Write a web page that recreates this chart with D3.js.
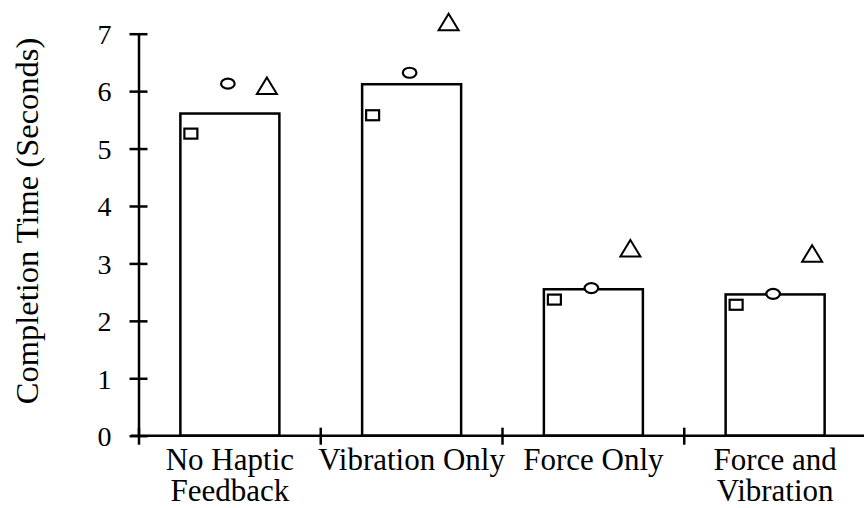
<!DOCTYPE html>
<html>
<head>
<meta charset="utf-8">
<script src="https://cdn.jsdelivr.net/npm/d3@7"></script>
<style>
  body { margin: 0; background: #fff; }
  text { font-family: "Liberation Serif", "Times New Roman", serif; fill: #000; }
</style>
</head>
<body>
<div id="chart"></div>
<script>
// Basic setup
var width = 864,
    height = 508;

// Data
var conditions = ["No Haptic Feedback", "Vibration Only", "Force Only", "Force and Vibration"];
var conditionLines = [["No Haptic", "Feedback"], ["Vibration Only"], ["Force Only"], ["Force and", "Vibration"]];
var meanTimes = [5.61, 6.12, 2.55, 2.46];
var squareTimes = [5.26, 5.58, 2.37, 2.28];
var circleTimes = [6.13, 6.32, 2.57, 2.47];
var triangleTimes = [6.09, 7.2, 3.26, 3.17];
var yTicks = [0, 1, 2, 3, 4, 5, 6, 7];
var yTitle = "Completion Time (Seconds)";

var svg = d3.select("#chart").append("svg")
    .attr("width", width)
    .attr("height", height);

var x = d3.scaleBand()
    .domain(conditions)
    .range([139, 866])
    .padding(0);

var y = d3.scaleLinear()
    .domain([0, 7])
    .range([435.7, 33.7]);

var axisX = 138.5;
var barWidth = 99;

// Y axis, ticks cross the line on both sides
var yAxis = svg.append("g")
    .attr("transform", "translate(" + axisX + ",0)")
    .call(d3.axisLeft(y)
      .tickValues(yTicks)
      .tickFormat(d3.format("d"))
      .tickSize(9)
      .tickSizeOuter(0)
      .tickPadding(18));

yAxis.select(".domain").attr("stroke-width", 2.5);
yAxis.selectAll(".tick line").attr("x1", 9).attr("stroke-width", 2.5);
yAxis.selectAll(".tick text")
    .style("font-size", "28px")
    .style("font-family", "'Liberation Serif', 'Times New Roman', serif")
    .attr("dy", "0.35em");

svg.append("text")
    .attr("transform", "translate(38,221) rotate(-90)")
    .attr("text-anchor", "middle")
    .style("font-size", "32.5px")
    .text(yTitle);

// X axis line and boundary ticks
svg.append("line")
    .attr("x1", 131).attr("x2", 864)
    .attr("y1", y(0)).attr("y2", y(0))
    .attr("stroke", "#000").attr("stroke-width", 2.5);

svg.selectAll("line.xtick")
    .data(conditions)
  .enter().append("line")
    .attr("class", "xtick")
    .attr("x1", function(d) { return x(d); })
    .attr("x2", function(d) { return x(d); })
    .attr("y1", y(0) - 8)
    .attr("y2", y(0) + 9)
    .attr("stroke", "#000").attr("stroke-width", 2.5);

// Category labels (two lines where the original wraps)
var labels = svg.selectAll("text.xlabel")
    .data(conditions)
  .enter().append("text")
    .attr("class", "xlabel")
    .attr("text-anchor", "middle")
    .style("font-size", "31px");

labels.selectAll("tspan")
    .data(function(d, i) { return conditionLines[i].map(function(t) { return { text: t, cat: d }; }); })
  .enter().append("tspan")
    .attr("x", function(d) { return x(d.cat) + x.bandwidth() / 2; })
    .attr("y", function(d, i) { return 470 + i * 31; })
    .text(function(d) { return d.text; });

// Bars
svg.selectAll("rect.bar")
    .data(conditions)
  .enter().append("rect")
    .attr("class", "bar")
    .attr("x", function(d) { return x(d) + x.bandwidth() / 2 - barWidth / 2; })
    .attr("width", barWidth)
    .attr("y", function(d, i) { return y(meanTimes[i]); })
    .attr("height", function(d, i) { return y(0) - y(meanTimes[i]); })
    .attr("fill", "none")
    .attr("stroke", "#000")
    .attr("stroke-width", 2.5);

function cx(d) { return x(d) + x.bandwidth() / 2; }

// Square markers
svg.selectAll("rect.square")
    .data(conditions)
  .enter().append("rect")
    .attr("class", "square")
    .attr("x", function(d) { return cx(d) - 39 - 6.5; })
    .attr("y", function(d, i) { return y(squareTimes[i]) - 5; })
    .attr("width", 13)
    .attr("height", 10)
    .attr("fill", "#fff")
    .attr("stroke", "#000")
    .attr("stroke-width", 2.2);

// Circle markers
svg.selectAll("ellipse.circle")
    .data(conditions)
  .enter().append("ellipse")
    .attr("class", "circle")
    .attr("cx", function(d) { return cx(d) - 2; })
    .attr("cy", function(d, i) { return y(circleTimes[i]); })
    .attr("rx", 6.8)
    .attr("ry", 5)
    .attr("fill", "#fff")
    .attr("stroke", "#000")
    .attr("stroke-width", 2.2);

// Triangle markers
svg.selectAll("path.triangle")
    .data(conditions)
  .enter().append("path")
    .attr("class", "triangle")
    .attr("d", function(d, i) {
      var px = cx(d) + 37, py = y(triangleTimes[i]);
      return "M" + px + "," + (py - 8.5) + "L" + (px + 10) + "," + (py + 8) + "L" + (px - 10) + "," + (py + 8) + "Z";
    })
    .attr("fill", "#fff")
    .attr("stroke", "#000")
    .attr("stroke-width", 2);
</script>
</body>
</html>
